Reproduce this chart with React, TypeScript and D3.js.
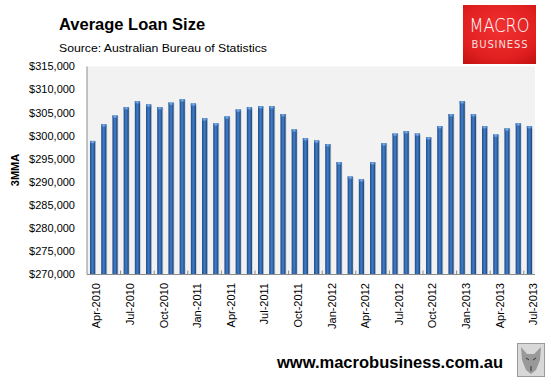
import React from "react";
import * as d3 from "d3";

const months = [
  "Apr-2010","May-2010","Jun-2010","Jul-2010","Aug-2010","Sep-2010","Oct-2010","Nov-2010","Dec-2010",
  "Jan-2011","Feb-2011","Mar-2011","Apr-2011","May-2011","Jun-2011","Jul-2011","Aug-2011","Sep-2011","Oct-2011","Nov-2011","Dec-2011",
  "Jan-2012","Feb-2012","Mar-2012","Apr-2012","May-2012","Jun-2012","Jul-2012","Aug-2012","Sep-2012","Oct-2012","Nov-2012","Dec-2012",
  "Jan-2013","Feb-2013","Mar-2013","Apr-2013","May-2013","Jun-2013","Jul-2013",
];

const loanSize = [
  298900, 302500, 304400, 306200, 307500, 306800, 306200, 307200, 307900,
  307000, 303800, 302700, 304200, 305700, 306200, 306400, 306400, 304700, 301400, 299500, 299000,
  298200, 294300, 291200, 290600, 294300, 298400, 300500, 301000, 300500, 299700, 302100, 304700,
  307500, 304700, 302100, 300300, 301600, 302700, 302100,
];

const yTicks = [270000, 275000, 280000, 285000, 290000, 295000, 300000, 305000, 310000, 315000];

const W = 551;
const H = 384;
const plot = { left: 87, right: 535, top: 66.5, bottom: 274.5 };

export default function App() {
  const x = d3.scaleBand<string>().domain(months).range([plot.left, plot.right]).paddingInner(0).paddingOuter(0);
  const y = d3.scaleLinear().domain([270000, 315000]).range([plot.bottom, plot.top]);
  const bw = x.bandwidth() * 0.46;
  const fmt = (v: number) => "$" + d3.format(",")(v);
  const font = "'Liberation Sans', Arial, sans-serif";

  return (
    <svg width={W} height={H} style={{ position: "fixed", left: 0, top: 0, background: "#fff" }} fontFamily={font}>
      <defs>
        <linearGradient id="barG" x1="0" x2="1" y1="0" y2="0">
          <stop offset="0" stopColor="#1c4680" />
          <stop offset="0.45" stopColor="#3f7cc8" />
          <stop offset="0.6" stopColor="#3a74bd" />
          <stop offset="1" stopColor="#1a4076" />
        </linearGradient>
        <linearGradient id="capG" x1="0" x2="1" y1="0" y2="0">
          <stop offset="0" stopColor="#3a72b8" />
          <stop offset="0.5" stopColor="#7fb0ea" />
          <stop offset="1" stopColor="#3a72b8" />
        </linearGradient>
        <radialGradient id="redG" cx="0.5" cy="0.4" r="0.75">
          <stop offset="0" stopColor="#f23232" />
          <stop offset="0.7" stopColor="#e01f1f" />
          <stop offset="1" stopColor="#c41212" />
        </radialGradient>
      </defs>

      {/* Title */}
      <text x={59} y={30} fontSize={16.5} fontWeight="bold" fill="#000">Average Loan Size</text>
      <text x={59} y={52} fontSize={11} fill="#000" textLength={208} lengthAdjust="spacingAndGlyphs">Source:  Australian Bureau of Statistics</text>

      {/* Logo */}
      <rect x={463} y={5} width={73} height={59} fill="url(#redG)" />
      <text x={499.5} y={32} fontSize={19} fill="#fff" textAnchor="middle" fontFamily="'DejaVu Sans', sans-serif" fontWeight={200} textLength={60} lengthAdjust="spacingAndGlyphs">MACRO</text>
      <text x={499.5} y={47.5} fontSize={10} fill="#f6dede" textAnchor="middle" fontFamily="'DejaVu Sans', sans-serif" textLength={56} lengthAdjust="spacing">BUSINESS</text>

      {/* Plot background */}
      <rect x={plot.left} y={plot.top} width={plot.right - plot.left} height={plot.bottom - plot.top} fill="#f2f2f2" />

      {/* Bars */}
      {loanSize.map((v, i) => {
        const cx = (x(months[i]) as number) + x.bandwidth() / 2;
        const top = y(v);
        return (
          <g key={i}>
            <rect x={cx - bw / 2 + 0.8} y={top + 0.5} width={bw} height={plot.bottom - top} fill="#9aa3ad" opacity={0.5} />
            <rect x={cx - bw / 2} y={top} width={bw} height={plot.bottom - top} fill="url(#barG)" />
            <rect x={cx - bw / 2} y={top} width={bw} height={2.2} fill="url(#capG)" />
          </g>
        );
      })}

      {/* Axes */}
      <line x1={plot.left} x2={plot.left} y1={plot.top} y2={plot.bottom} stroke="#8c8c8c" strokeWidth={1} />
      <line x1={plot.left} x2={plot.right} y1={plot.bottom} y2={plot.bottom} stroke="#8c8c8c" strokeWidth={1} />
      {months.map((m, i) =>
        i > 0 && i % 3 === 0 ? (
          <line key={"t" + i} x1={x(m) as number} x2={x(m) as number} y1={plot.bottom} y2={plot.bottom - 4} stroke="#8c8c8c" />
        ) : null
      )}

      {/* Y labels */}
      {yTicks.map((t) => (
        <text key={t} x={75} y={y(t)} dy="0.35em" fontSize={11} textAnchor="end" fill="#000">{fmt(t)}</text>
      ))}
      <text transform={`translate(15,170) rotate(-90)`} fontSize={11} fontWeight="bold" textAnchor="middle" dy="0.35em" fill="#000">3MMA</text>

      {/* X labels */}
      {months.map((m, i) =>
        i % 3 === 0 ? (
          <text key={m} transform={`translate(${(x(m) as number) + x.bandwidth() / 2 + 4},283) rotate(-90)`} fontSize={11} textAnchor="end" dy="0.35em" fill="#000">{m}</text>
        ) : null
      )}

      {/* Footer */}
      <text x={277} y={368} fontSize={16} fontWeight="bold" fill="#000" textLength={226} lengthAdjust="spacingAndGlyphs">www.macrobusiness.com.au</text>
      <g>
        <rect x={517.5} y={343.5} width={27} height={33} fill="#d8d8d8" stroke="#9a9a9a" />
        <path d="M521 347 L527 354 L534 354 L541 347 L540 360 L536 370 L531 374 L526 370 L522 360 Z" fill="#8a8a8a" opacity={0.8} />
        <path d="M526 358 L529 360 M536 358 L533 360 M531 366 L531 371" stroke="#333" strokeWidth={1} />
      </g>
    </svg>
  );
}
